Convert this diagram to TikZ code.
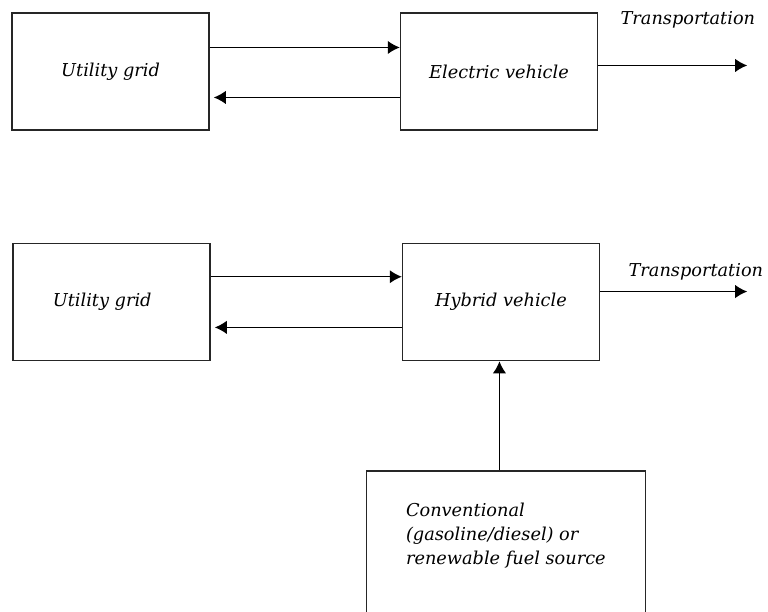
\documentclass[tikz,border=0pt]{standalone}
\usepackage{fontspec}
\setmainfont{DejaVu Serif}
\usetikzlibrary{arrows.meta,positioning}

\begin{document}
\begin{tikzpicture}[node distance=85.5pt and 142.5pt,font=\itshape\fontsize{13.3}{18}\selectfont,blk/.style={draw=black!85,line width=1.1pt,minimum width=147.75pt,minimum height=87.75pt,align=center},arr/.style={-{Latex[length=9pt,width=10pt]},line width=1pt}]
\clip (0,0) rectangle (576pt,-458.25pt);
\node[blk] (ug) at (82.9pt,-53.6pt) {Utility grid};
\node[blk,right=of ug] (ev) {Electric vehicle};
\node[blk,below=of ev,xshift=1.5pt,yshift=1.4pt] (hv) {Hybrid vehicle};
\node[blk,below=of ug,yshift=1.4pt,xshift=0.75pt] (ug2) {\hspace*{-14pt}Utility grid};
\node[blk,below=81.75pt of hv,xshift=3.75pt,minimum width=209.25pt,minimum height=120pt] (fuel) {};
\node[anchor=north west,inner sep=0pt,align=left] (fueltxt) at ([shift={(30pt,-24pt)}]fuel.north west) {Conventional\\(gasoline/diesel) or\\renewable fuel source};
\coordinate (evout) at ([shift={(111.75pt,4.5pt)}]ev.east);
\coordinate (hvout) at ([shift={(110.25pt,7.9pt)}]hv.east);
\draw[arr] ([yshift=18pt]ug.east) -- ([yshift=18pt]ev.west|-ug.east);
\draw[arr] ([yshift=-19.5pt]ev.west) -- ([yshift=-19.5pt,xshift=3pt]ug.east|-ev.west);
\draw[arr] (ev.east|-evout) -- (evout);
\node (tr1) at ([shift={(-44.5pt,34.5pt)}]evout) {Transportation};
\draw[arr] ([yshift=19pt]ug2.east) -- ([yshift=19pt]hv.west|-ug2.east);
\draw[arr] ([yshift=-19pt]hv.west) -- ([yshift=-19pt,xshift=3pt]ug2.east|-hv.west);
\draw[arr] (hv.east|-hvout) -- (hvout);
\node (tr2) at ([shift={(-38.5pt,15pt)}]hvout) {Transportation};
\draw[arr] ([xshift=-4.9pt]fuel.north) -- ([xshift=-4.9pt]fuel.north|-hv.south);
\end{tikzpicture}
\end{document}
